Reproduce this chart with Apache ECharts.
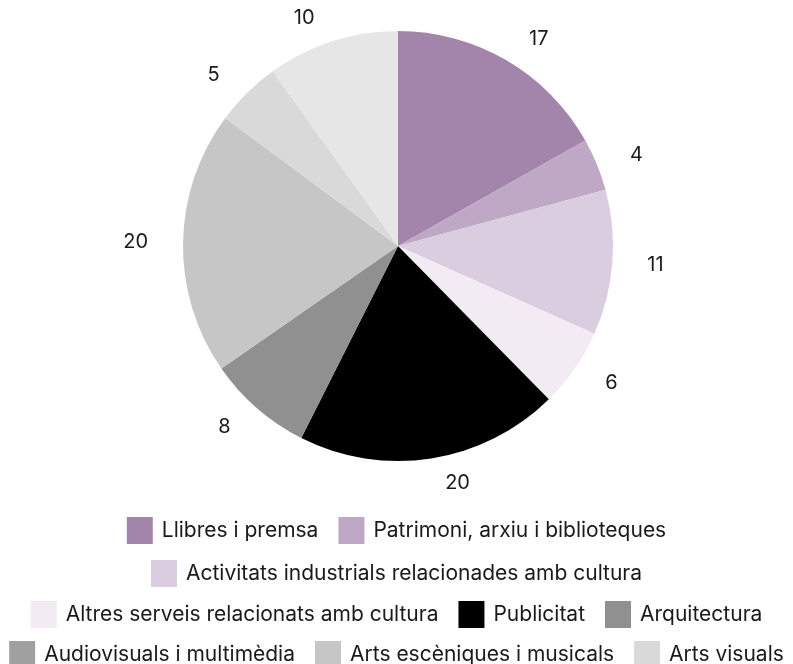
<!DOCTYPE html>
<html>
<head>
<meta charset="utf-8">
<script src="https://cdn.jsdelivr.net/npm/echarts@6/dist/echarts.min.js"></script>
<style>
html,body{margin:0;padding:0;background:#fff;}
#chart{width:793px;height:664px;}
</style>
</head>
<body>
<div id="chart"></div>
<script>
const categories = [
  "Llibres i premsa",
  "Patrimoni, arxiu i biblioteques",
  "Activitats industrials relacionades amb cultura",
  "Altres serveis relacionats amb cultura",
  "Publicitat",
  "Arquitectura",
  "Audiovisuals i multimèdia",
  "Arts escèniques i musicals",
  "Arts visuals",
  "Disseny"
];
const values = [17, 4, 11, 6, 20, 8, 0, 20, 5, 10];
const colors = ["#a385ab", "#bea8c5", "#dbcde0", "#f2ebf3", "#000000", "#909090", "#a0a0a0", "#c6c6c6", "#d9d9d9", "#e6e6e6"];
const legendRows = [
  ["Llibres i premsa", "Patrimoni, arxiu i biblioteques"],
  ["Activitats industrials relacionades amb cultura"],
  ["Altres serveis relacionats amb cultura", "Publicitat", "Arquitectura"],
  ["Audiovisuals i multimèdia", "Arts escèniques i musicals", "Arts visuals"]
];
const legendTops = [512, 555, 596, 636];

const FONT = "Inter";
const chart = echarts.init(document.getElementById('chart'), null, {renderer: 'canvas'});
const data = categories.map((c, i) => ({name: c, value: values[i]}));

const option = {
  animation: false,
  color: colors,
  textStyle: {fontFamily: FONT},
  legend: legendRows.map((row, i) => ({
    data: row,
    left: 'center',
    top: legendTops[i],
    orient: 'horizontal',
    icon: 'rect',
    itemWidth: 26,
    itemHeight: 27,
    itemGap: 20,
    selectedMode: false,
    textStyle: {fontFamily: FONT, fontSize: 21, color: '#1a1a1a', padding: [0, 0, 0, 4]}
  })),
  series: [{
    type: 'pie',
    center: [398, 246],
    radius: 215,
    startAngle: 90,
    clockwise: true,
    avoidLabelOverlap: false,
    silent: true,
    itemStyle: {borderWidth: 0},
    label: {
      show: true,
      position: 'outside',
      fontFamily: FONT,
      fontSize: 20,
      color: '#1a1a1a',
      formatter: p => p.value ? String(p.value) : ''
    },
    labelLine: {show: false, length: 25, length2: 5},
    emphasis: {disabled: true},
    data: data
  }]
};
chart.setOption(option);
</script>
</body>
</html>
